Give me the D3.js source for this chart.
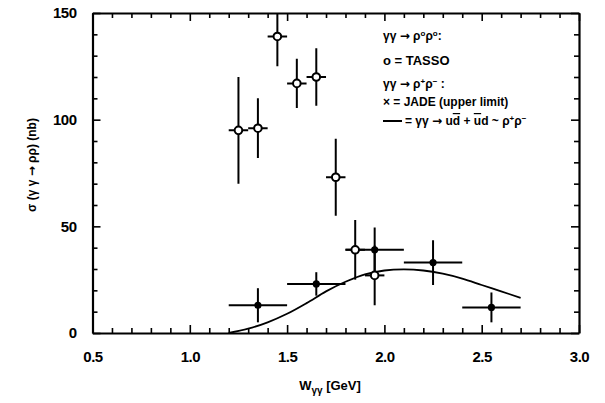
<!DOCTYPE html>
<html>
<head>
<meta charset="utf-8">
<script src="https://cdn.jsdelivr.net/npm/d3@7"></script>
<style>
  body { margin: 0; background: #fff; }
  svg text { font-family: "Liberation Sans", Arial, sans-serif; fill: #000; }
  .arr { font-family: "DejaVu Sans", sans-serif; }
</style>
</head>
<body>
<svg id="chart"></svg>
<script>
// TASSO  gamma gamma -> rho0 rho0 (open circles)
const tassoW = [1.25, 1.35, 1.45, 1.55, 1.65, 1.75, 1.85, 1.95];
const tassoSigma = [95, 96, 139, 117, 120, 73, 39, 27];
const tassoErr = [25, 14, 14, 11.5, 13.5, 18, 14, 14];
const tassoHalfBin = 0.05;

// JADE  gamma gamma -> rho+ rho- (upper limit, filled dots)
const jadeW = [1.35, 1.65, 1.95, 2.25, 2.55];
const jadeSigma = [13, 23, 39, 33, 12];
const jadeErr = [8, 5.5, 10.5, 10.5, 7];
const jadeHalfBin = 0.15;

// model curve  gamma gamma -> u dbar + ubar d ~ rho+ rho-
const curveW = [1.2, 1.3, 1.4, 1.5, 1.6, 1.7, 1.8, 1.9, 2.0, 2.1, 2.2, 2.3, 2.4, 2.5, 2.6, 2.7];
const curveSigma = [0, 2, 5, 9, 14, 19.5, 24, 27.5, 29.3, 29.8, 29.3, 27.8, 25.5, 22.5, 19.5, 16.5];

const xTickLabels = [0.5, 1.0, 1.5, 2.0, 2.5, 3.0];
const yTickLabels = [0, 50, 100, 150];

const width = 605, height = 403;
const margin = { top: 13, right: 26, bottom: 70, left: 92.5 };
const innerWidth = width - margin.left - margin.right;
const innerHeight = height - margin.top - margin.bottom;

const svg = d3.select("#chart").attr("width", width).attr("height", height);

const g = svg.append("g")
  .attr("transform", `translate(${margin.left},${margin.top})`);

const x = d3.scaleLinear().domain([0.5, 3.0]).range([0, innerWidth]);
const y = d3.scaleLinear().domain([0, 150]).range([innerHeight, 0]);

// clip to the frame
svg.append("defs").append("clipPath").attr("id", "plot-clip")
  .append("rect").attr("width", innerWidth).attr("height", innerHeight);

const xMinor = d3.range(5, 31).map(d => d / 10);
const yMinor = d3.range(0, 16).map(d => d * 10);
const isMajorX = v => xTickLabels.some(t => Math.abs(t - v) < 1e-6);
const isMajorY = v => yTickLabels.includes(v);

// bottom axis, ticks pointing inward
const xAxis = g.append("g")
  .attr("transform", `translate(0,${innerHeight})`)
  .call(d3.axisBottom(x).tickValues(xMinor).tickSizeOuter(0).tickPadding(12)
    .tickFormat(d => isMajorX(d) ? d.toFixed(1) : ""));
xAxis.selectAll(".tick line").attr("y2", d => isMajorX(d) ? -8 : -5);

// top axis
const xTop = g.append("g")
  .call(d3.axisTop(x).tickValues(xMinor).tickSizeOuter(0).tickFormat(""));
xTop.selectAll(".tick line").attr("y2", d => isMajorX(d) ? 8 : 5);

// left axis
const yAxis = g.append("g")
  .call(d3.axisLeft(y).tickValues(yMinor).tickSizeOuter(0).tickPadding(10)
    .tickFormat(d => isMajorY(d) ? d : ""));
yAxis.selectAll(".tick line").attr("x2", d => isMajorY(d) ? 8 : 5);

// right axis
const yRight = g.append("g")
  .attr("transform", `translate(${innerWidth},0)`)
  .call(d3.axisRight(y).tickValues(yMinor).tickSizeOuter(0).tickFormat(""));
yRight.selectAll(".tick line").attr("x2", d => isMajorY(d) ? -8 : -5);

// drop the empty labels of minor ticks
g.selectAll(".tick text").filter(function () { return this.textContent === ""; }).remove();

g.selectAll(".domain").attr("stroke-width", 2.2);
g.selectAll(".tick line").attr("stroke-width", 1.6);
g.selectAll(".tick text")
  .attr("font-size", "15px")
  .attr("font-weight", "bold")
  .style("letter-spacing", "-0.5px");

// axis titles
svg.append("text")
  .attr("x", 330)
  .attr("y", 390)
  .attr("text-anchor", "middle")
  .attr("font-size", "13px")
  .attr("font-weight", "bold")
  .html('W<tspan font-size="10px" dy="4">γγ</tspan><tspan dy="-4"> [GeV]</tspan>');

svg.append("text")
  .attr("transform", `translate(36,${margin.top + innerHeight / 2 - 8}) rotate(-90)`)
  .attr("text-anchor", "middle")
  .attr("font-size", "12px")
  .attr("font-weight", "bold")
  .html('σ (γ γ <tspan class="arr">→</tspan> ρρ)  (nb)');

const plot = g.append("g").attr("clip-path", "url(#plot-clip)");

// model curve
const line = d3.line()
  .x((d, i) => x(curveW[i]))
  .y(d => y(d))
  .curve(d3.curveCatmullRom);

plot.append("path")
  .datum(curveSigma)
  .attr("d", line)
  .attr("fill", "none")
  .attr("stroke", "#000")
  .attr("stroke-width", 1.8);

// error bars
function errorBars(ws, sig, err, half) {
  const eb = plot.append("g").attr("stroke", "#000").attr("stroke-width", 2);
  eb.selectAll("line.v").data(ws).enter().append("line")
    .attr("x1", d => x(d)).attr("x2", d => x(d))
    .attr("y1", (d, i) => y(sig[i] - err[i]))
    .attr("y2", (d, i) => y(sig[i] + err[i]));
  eb.selectAll("line.h").data(ws).enter().append("line")
    .attr("x1", d => x(d - half)).attr("x2", d => x(d + half))
    .attr("y1", (d, i) => y(sig[i]))
    .attr("y2", (d, i) => y(sig[i]));
}
errorBars(jadeW, jadeSigma, jadeErr, jadeHalfBin);
errorBars(tassoW, tassoSigma, tassoErr, tassoHalfBin);

// JADE filled dots
plot.selectAll("circle.jade").data(jadeW).enter().append("circle")
  .attr("cx", d => x(d))
  .attr("cy", (d, i) => y(jadeSigma[i]))
  .attr("r", 3.6)
  .attr("fill", "#000");

// TASSO open circles
plot.selectAll("circle.tasso").data(tassoW).enter().append("circle")
  .attr("cx", d => x(d))
  .attr("cy", (d, i) => y(tassoSigma[i]))
  .attr("r", 3.8)
  .attr("fill", "#fff")
  .attr("stroke", "#000")
  .attr("stroke-width", 2);

// legend
const legend = svg.append("g").attr("font-weight", "bold");
legend.append("text").attr("x", 383).attr("y", 40).attr("font-size", "12px")
  .html('γγ <tspan class="arr">→</tspan> ρ<tspan font-size="8px" dy="-4">o</tspan><tspan dy="4">ρ</tspan><tspan font-size="8px" dy="-4">o</tspan><tspan dy="4">:</tspan>');
legend.append("text").attr("x", 383).attr("y", 65).attr("font-size", "13px")
  .text("o = TASSO");
legend.append("text").attr("x", 383).attr("y", 88).attr("font-size", "12px")
  .html('γγ <tspan class="arr">→</tspan> ρ<tspan font-size="8px" dy="-4">+</tspan><tspan dy="4">ρ</tspan><tspan font-size="8px" dy="-4">−</tspan><tspan dy="4"> :</tspan>');
legend.append("text").attr("x", 383).attr("y", 106).attr("font-size", "12px")
  .text("× = JADE (upper limit)");
legend.append("line")
  .attr("x1", 383).attr("x2", 402).attr("y1", 121).attr("y2", 121)
  .attr("stroke", "#000").attr("stroke-width", 2);
legend.append("text").attr("x", 405).attr("y", 125).attr("font-size", "12px")
  .html('= γγ <tspan class="arr">→</tspan> u<tspan text-decoration="overline">d</tspan> + <tspan text-decoration="overline">u</tspan>d ~ ρ<tspan font-size="8px" dy="-4">+</tspan><tspan dy="4">ρ</tspan><tspan font-size="8px" dy="-4">−</tspan>');
</script>
</body>
</html>
